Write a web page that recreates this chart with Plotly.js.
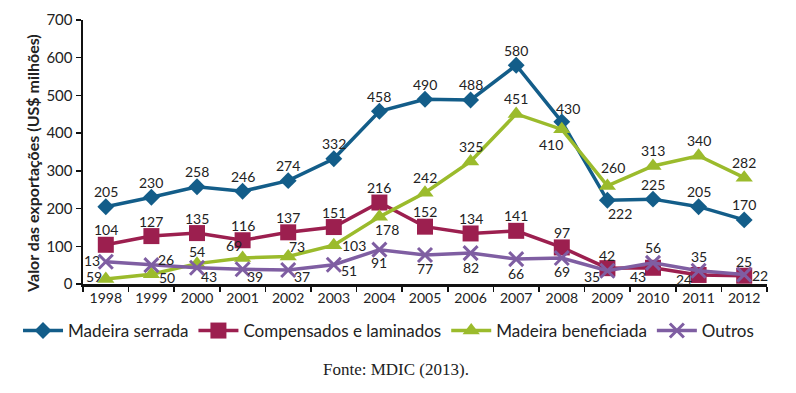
<!DOCTYPE html>
<html><head><meta charset="utf-8">
<script src="https://cdn.plot.ly/plotly-3.0.1.min.js"></script>
<style>html,body{margin:0;padding:0;background:#fff;}#chart{width:796px;height:393px;}</style>
</head><body><div id="chart"></div>
<script>
var years = ["1998","1999","2000","2001","2002","2003","2004","2005","2006","2007","2008","2009","2010","2011","2012"];
var madeiraSerrada = [205,230,258,246,274,332,458,490,488,580,430,222,225,205,170];
var compensados = [104,127,135,116,137,151,216,152,134,141,97,42,43,24,22];
var madeiraBeneficiada = [13,26,54,69,73,103,178,242,325,451,410,260,313,340,282];
var outros = [59,50,43,39,37,51,91,77,82,66,69,35,56,35,25];
var seriesNames = ["Madeira serrada","Compensados e laminados","Madeira beneficiada","Outros"];

var colors = ["#135d89","#9c1f4f","#9bbb2c","#7f5ea2"];
var symbols = ["diamond","square","triangle-up","x-thin-open"];
var msizes = [13,16,15,14];
var allData = [madeiraSerrada, compensados, madeiraBeneficiada, outros];

// label pixel offsets [dx, dy] (dy up positive)
var up = [0,15];
var offs = [
  [up,up,up,up,up,up,up,up,up,up,[6,13],[13,-13],up,up,up],
  [up,up,up,up,up,up,up,up,up,up,up,[0,13],[-15,-9],[-15,-5],[16,0]],
  [[-14,19],[15,15],[0,12],[-9,12],[9,10],[20,0],[8,-13],up,up,up,[-11,-15],[6,18],up,up,up],
  [[-12,-15],[16,-12],[12,-9],[12,-7],[14,-6],[15,-6],[0,-13],[0,-14],[0,-14],[0,-14],[0,-14],[-15,-6],[0,15],[0,14],[0,13]]
];

var txtFont = "Lato, 'Open Sans', sans-serif";
var traces = [];
var annotations = [];
for (var s = 0; s < 4; s++) {
  var mk = {symbol: symbols[s], size: msizes[s], color: colors[s]};
  if (s === 3) mk.line = {color: colors[s], width: 3};
  traces.push({
    type: "scatter", mode: "lines+markers", name: seriesNames[s],
    x: years, y: allData[s],
    line: {color: colors[s], width: 3.5},
    marker: mk
  });
  for (var i = 0; i < years.length; i++) {
    annotations.push({
      x: i, y: allData[s][i], xref: "x", yref: "y",
      text: String(allData[s][i]), showarrow: false,
      xshift: offs[s][i][0], yshift: offs[s][i][1],
      font: {family: txtFont, size: 14, color: "#222"}
    });
  }
}
annotations.push({
  xref: "paper", yref: "paper", x: 0.458, y: -0.322, xanchor: "center", yanchor: "middle",
  text: "Fonte: MDIC (2013).", showarrow: false,
  font: {family: "'Liberation Serif', 'DejaVu Serif', serif", size: 17, color: "#222"}
});
annotations.push({
  xref: "paper", yref: "paper", x: 0, xshift: -50, y: 0.455, xanchor: "center", yanchor: "middle",
  textangle: -90, text: "<b>Valor das exportações (US$ milhões)</b>", showarrow: false,
  font: {family: txtFont, size: 16, color: "#222"}
});

var layout = {
  width: 796, height: 393,
  margin: {l: 83, r: 29, t: 20, b: 109},
  paper_bgcolor: "#fff", plot_bgcolor: "#fff",
  showlegend: true,
  legend: {orientation: "h", x: -0.095, xanchor: "left", y: -0.178, yanchor: "middle",
           font: {family: txtFont, size: 17, color: "#222"},
           itemwidth: 40, tracegroupgap: 0},
  xaxis: {
    type: "category", range: [-0.5, 14.5], showgrid: false, zeroline: false,
    showline: true, linecolor: "#111", linewidth: 2.5,
    ticks: "outside", ticklen: 5, tickwidth: 1.5, tickcolor: "#111",
    tickson: "boundaries",
    tickfont: {family: txtFont, size: 14, color: "#222"}
  },
  yaxis: {
    range: [0, 700], dtick: 100, showgrid: false, zeroline: false,
    showline: true, linecolor: "#111", linewidth: 2.5,
    ticks: "outside", ticklen: 5, tickwidth: 1.5, tickcolor: "#111",
    tickfont: {family: txtFont, size: 15, color: "#222"}
  },
  annotations: annotations
};
Plotly.newPlot("chart", traces, layout, {displayModeBar: false, staticPlot: true});
</script>
</body></html>
